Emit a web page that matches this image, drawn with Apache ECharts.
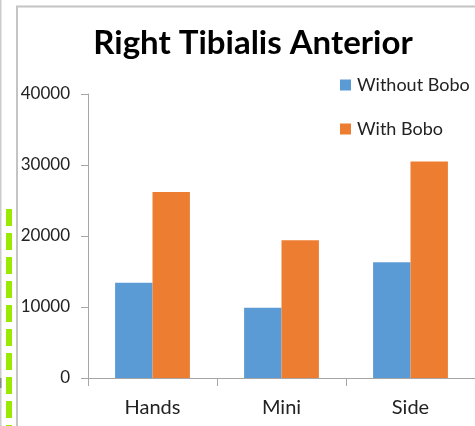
<!DOCTYPE html>
<html>
<head>
<meta charset="utf-8">
<script src="https://cdn.jsdelivr.net/npm/echarts@6/dist/echarts.min.js"></script>
<style>
  html, body { margin: 0; padding: 0; background: #fff; }
  #chart { width: 475px; height: 426px; }
</style>
</head>
<body>
<div id="chart"></div>
<script>
// Muscle activity of the right tibialis anterior, per exercise
const categories = ['Hands', 'Mini', 'Side'];
const withoutBobo = [13400, 9900, 16300];
const withBobo = [26200, 19400, 30500];
const seriesNames = ['Without Bobo', 'With Bobo'];
const yTicks = [0, 10000, 20000, 30000, 40000];

const FONT = 'Lato, "Open Sans", sans-serif';
const AXIS_GREY = '#a6a6a6';

const chart = echarts.init(document.getElementById('chart'), null, { renderer: 'canvas' });

chart.setOption({
  animation: false,
  backgroundColor: '#fff',
  title: {
    text: 'Right Tibialis Anterior',
    left: 248,
    top: 22,
    textAlign: 'center',
    textStyle: { fontFamily: FONT, fontWeight: 'bold', fontSize: 33, color: '#000' }
  },
  legend: {
    orient: 'vertical',
    left: 335,
    top: 71,
    itemWidth: 11,
    itemHeight: 11,
    itemGap: 26,
    icon: 'rect',
    textStyle: { fontFamily: FONT, fontSize: 18, color: '#222', padding: [0, 0, 0, 1] },
    data: seriesNames
  },
  grid: { left: 88, top: 94, width: 398, bottom: 48, containLabel: false },
  xAxis: {
    type: 'category',
    data: categories,
    axisLine: { lineStyle: { color: AXIS_GREY, width: 1 } },
    axisTick: { show: true, length: 8, lineStyle: { color: AXIS_GREY } },
    axisLabel: { fontFamily: FONT, fontSize: 20, color: '#222', margin: 20 }
  },
  yAxis: {
    type: 'value',
    min: yTicks[0],
    max: yTicks[yTicks.length - 1],
    interval: yTicks[1] - yTicks[0],
    axisLine: { show: true, lineStyle: { color: AXIS_GREY, width: 1 } },
    axisTick: { show: true, length: 7, lineStyle: { color: AXIS_GREY } },
    splitLine: { show: false },
    axisLabel: {
      fontFamily: FONT, fontSize: 17, color: '#222', margin: 18,
      formatter: (v) => String(v)
    }
  },
  series: [
    {
      name: seriesNames[0],
      type: 'bar',
      data: withoutBobo,
      barGap: '0%',
      barCategoryGap: '42%',
      itemStyle: { color: '#5b9bd5' }
    },
    {
      name: seriesNames[1],
      type: 'bar',
      data: withBobo,
      barGap: '0%',
      barCategoryGap: '42%',
      itemStyle: { color: '#ed7d31' }
    }
  ],
  graphic: [
    // edge of the neighbouring panel
    { type: 'line', shape: { x1: 0.5, y1: 0, x2: 0.5, y2: 426 }, style: { stroke: '#cccccc', lineWidth: 2 }, silent: true },
    { type: 'line', shape: { x1: 0.5, y1: 378, x2: 0.5, y2: 388 }, style: { stroke: '#8a8a8a', lineWidth: 2 }, silent: true },
    // dashed selection marker
    { type: 'line', shape: { x1: 9, y1: 209, x2: 9, y2: 426 }, style: { stroke: '#9be800', lineWidth: 6, lineDash: [17, 7] }, silent: true },
    // chart area frame
    { type: 'polyline', shape: { points: [[17, 426], [17, 6.5], [475, 6.5]] }, style: { stroke: '#c4c4c4', lineWidth: 2, fill: null }, silent: true }
  ]
});
</script>
</body>
</html>
